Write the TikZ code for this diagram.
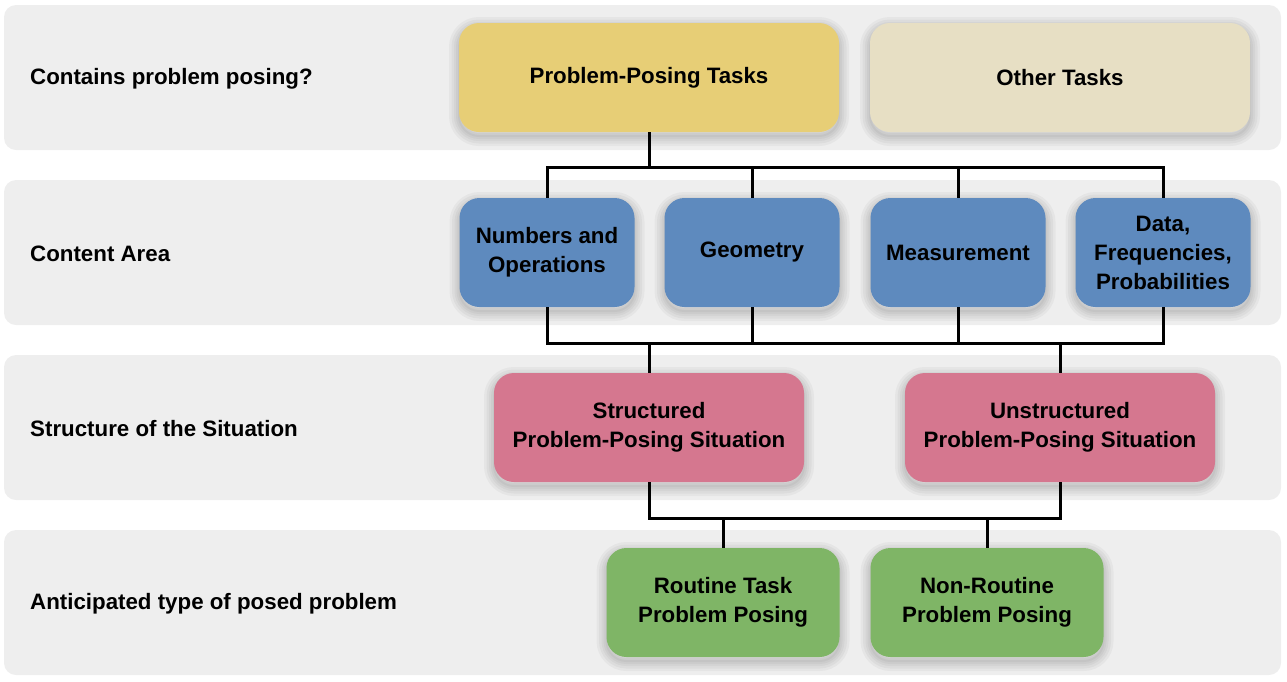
\documentclass[tikz,border=0pt]{standalone}
\usepackage{fontspec}
\setmainfont{Liberation Sans}
\definecolor{zeile}{HTML}{EEEEEE}
\definecolor{gelb}{HTML}{E7CE76}
\definecolor{beige}{HTML}{E7DFC4}
\definecolor{blau}{HTML}{5E8ABE}
\definecolor{rosa}{HTML}{D5778F}
\definecolor{gruen}{HTML}{7FB566}
\begin{document}
\begin{tikzpicture}[x=1pt,y=1pt,
  schatten/.style={preaction={draw=black,opacity=.035,line width=#1,transform canvas={yshift=-4pt}}},
  box/.style={rounded corners=20pt,minimum width=175pt,minimum height=109pt,align=center,inner sep=0pt,
    font=\fontsize{22.3}{29}\selectfont\bfseries,
    schatten=20pt,schatten=15pt,schatten=10pt,schatten=6pt,schatten=2pt},
  rowtext/.style={anchor=west,inner sep=0pt,font=\fontsize{22.3}{26}\selectfont\bfseries},
  conn/.style={line width=3pt}]
  \useasboundingbox (0,0) rectangle (1287,-681);
  % Zeilen
  \foreach \y in {0,175,350,525}
    \fill[zeile,rounded corners=12pt] (4,-5-\y) rectangle (1281,-150-\y);
  \node[rowtext] (q1) at (30,-79) {Contains problem posing?};
  \node[rowtext] (q2) at (30,-254) {Content Area};
  \node[rowtext] (q3) at (30,-429) {Structure of the Situation};
  \node[rowtext] (q4) at (30,-604) {Anticipated type of posed problem};
  % Knoten
  \node[box,fill=gelb,minimum width=380pt] (ppt) at (649,-77.5) {Problem-Posing Tasks};
  \node[box,fill=beige,minimum width=380pt] (other) at (1060,-77.5) {Other Tasks};
  \node[box,fill=blau] (num) at (547,-252.5) {Numbers and\\Operations};
  \node[box,fill=blau] (geo) at (752,-252.5) {Geometry};
  \node[box,fill=blau] (mea) at (958,-252.5) {Measurement};
  \node[box,fill=blau] (dat) at (1163,-252.5) {Data,\\Frequencies,\\Probabilities};
  \node[box,fill=rosa,minimum width=310pt] (str) at (649,-427.5) {Structured\\Problem-Posing Situation};
  \node[box,fill=rosa,minimum width=310pt] (unstr) at (1060,-427.5) {Unstructured\\Problem-Posing Situation};
  \node[box,fill=gruen,minimum width=233pt] (rout) at (723,-602.5) {Routine Task\\Problem Posing};
  \node[box,fill=gruen,minimum width=233pt] (nonrout) at (987,-602.5) {Non-Routine\\Problem Posing};
  % Verbindungen
  \coordinate (b1) at (0,-167);
  \coordinate (b2) at (0,-343);
  \coordinate (b3) at (0,-518);
  \draw[conn] (ppt.south) -- (ppt.south |- b1);
  \draw[conn] (num.north) |- (dat.north |- b1) -- (dat.north);
  \draw[conn] (geo.north) -- (geo.north |- b1);
  \draw[conn] (mea.north) -- (mea.north |- b1);
  \draw[conn] (num.south) |- (dat.south |- b2) -- (dat.south);
  \draw[conn] (geo.south) -- (geo.south |- b2);
  \draw[conn] (mea.south) -- (mea.south |- b2);
  \draw[conn] (str.north) -- (str.north |- b2);
  \draw[conn] (unstr.north) -- (unstr.north |- b2);
  \draw[conn] (str.south) |- (unstr.south |- b3) -- (unstr.south);
  \draw[conn] (rout.north) -- (rout.north |- b3);
  \draw[conn] (nonrout.north) -- (nonrout.north |- b3);
\end{tikzpicture}
\end{document}
